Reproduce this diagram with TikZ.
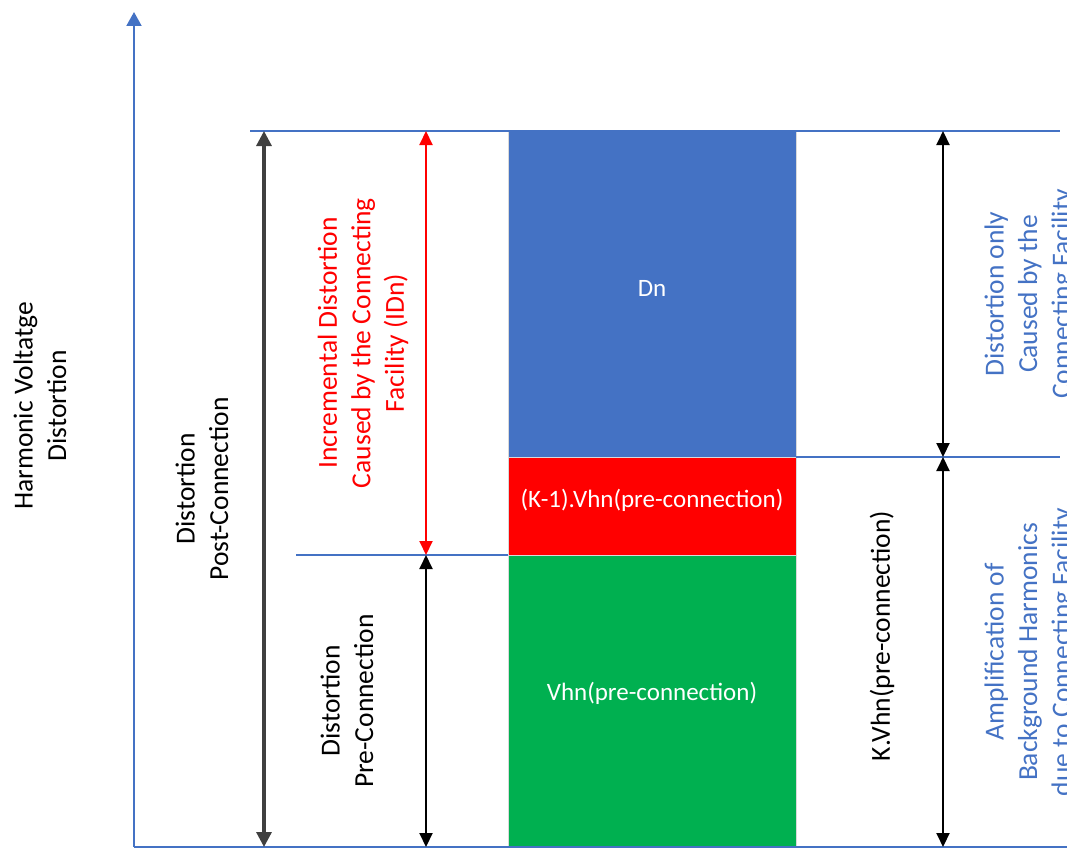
\documentclass[tikz,border=0pt]{standalone}
\usepackage{fontspec}
\setmainfont{Carlito}
\usetikzlibrary{arrows.meta}
\definecolor{axblue}{HTML}{4472C4}
\definecolor{bred}{HTML}{FF0000}
\definecolor{bgreen}{HTML}{00B050}
\definecolor{dgray}{HTML}{404040}
\tikzset{
  sidelabel/.style={rotate=90, align=center, font=\fontsize{27.5}{33.5}\selectfont, inner sep=0pt},
  boxlabel/.style={text=white, font=\fontsize{25}{30}\selectfont},
  bar/.style={draw=black!15, line width=0.8pt, inner sep=0pt},
  levelline/.style={draw=axblue, line width=1.5pt},
  dimarrow/.style={line width=2pt, {Triangle[length=14pt,width=13pt]}-{Triangle[length=14pt,width=13pt]}},
}
\begin{document}
\begin{tikzpicture}[x=1pt,y=-1pt]
\useasboundingbox (0,0) rectangle (1067,848);
% boxes
\path[bar, fill=axblue] (508,131) rectangle (796,457);
\path[bar, fill=bred] (508,457) rectangle (796,555);
\path[bar, fill=bgreen] (508,555) rectangle (796,847);
\node[boxlabel] (dn) at (652,288) {Dn};
\node[boxlabel] (kvh) at (652,500) {(K-1).Vhn(pre-connection)};
\node[boxlabel] (vh) at (652,693) {Vhn(pre-connection)};
% coordinates
\coordinate (o) at (134,847);
\coordinate (ytop) at (134,12);
\coordinate (xend) at (1070,847);
\coordinate (t1) at (250,131);
\coordinate (t2) at (1060,131);
\coordinate (m1) at (796,457);
\coordinate (m2) at (1060,457);
\coordinate (p1) at (296,555);
\coordinate (p2) at (508,555);
\coordinate (a1t) at (264,131);
\coordinate (a1b) at (264,847);
\coordinate (a2t) at (426,131);
\coordinate (a2m) at (426,555);
\coordinate (a2b) at (426,847);
\coordinate (a3t) at (943,131);
\coordinate (a3m) at (943,457);
\coordinate (a3b) at (943,847);
% axes and level lines
\draw[axblue, line width=2pt, -{Triangle[length=14pt,width=15pt]}] (o) -- (ytop);
\draw[levelline] (o) -- (xend);
\draw[levelline] (t1) -- (t2);
\draw[levelline] (m1) -- (m2);
\draw[levelline] (p1) -- (p2);
% dimension arrows
\draw[dgray, line width=3.2pt, {Triangle[length=15pt,width=15pt]}-{Triangle[length=15pt,width=15pt]}] (a1t) -- (a1b);
\draw[dimarrow, bred] (a2t) -- (a2m);
\draw[dimarrow, black] (a2m) -- (a2b);
\draw[dimarrow, black] (a3t) -- (a3m);
\draw[dimarrow, black] (a3m) -- (a3b);
% labels
\node[sidelabel] (hvd) at (40,406) {Harmonic Voltatge\\Distortion};
\node[sidelabel] (post) at (202,489) {Distortion\\Post-Connection};
\node[sidelabel, text=bred] (inc) at (363,343) {Incremental Distortion\\Caused by the Connecting\\Facility (IDn)};
\node[sidelabel] (pre) at (347,701) {Distortion\\Pre-Connection};
\node[sidelabel] (kv) at (882,636) {K.Vhn(pre-connection)};
\node[sidelabel, text=axblue] (only) at (1030,294) {Distortion only\\Caused by the\\Connecting Facility};
\node[sidelabel, text=axblue] (amp) at (1030,652) {Amplification of\\Background Harmonics\\due to Connecting Facility};
\end{tikzpicture}
\end{document}
